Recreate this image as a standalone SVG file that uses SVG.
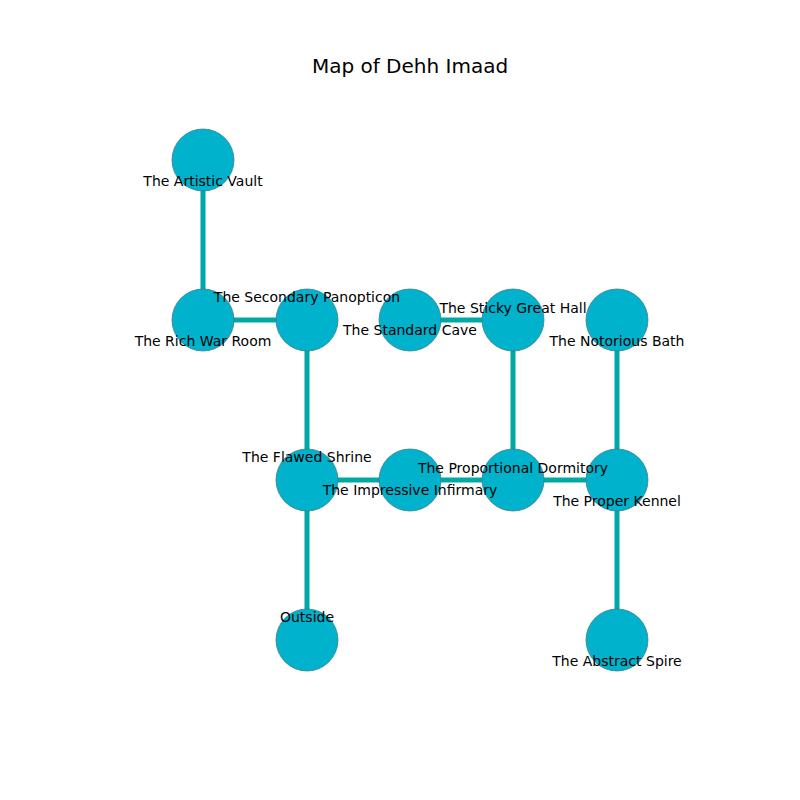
<svg xmlns="http://www.w3.org/2000/svg" width="800" height="800" viewBox="0 0 800 800">
<style>
.e{stroke:#00a8a8;stroke-width:5;fill:none}
.n{fill:#00b2cc;stroke:#3f7f8a;stroke-width:0.8}
text{font-family:"DejaVu Sans",sans-serif;font-size:14px;fill:#000;text-anchor:middle}
.t{font-size:20px}
</style>
<rect width="800" height="800" fill="#fff"/>
<text class="t" x="410" y="73">Map of Dehh Imaad</text>
<g id="connectors">
<line class="e" x1="203" y1="160" x2="203" y2="320"/>
<line class="e" x1="203" y1="320" x2="307" y2="320"/>
<line class="e" x1="307" y1="320" x2="307" y2="480"/>
<line class="e" x1="410" y1="320" x2="513" y2="320"/>
<line class="e" x1="513" y1="320" x2="513" y2="480"/>
<line class="e" x1="617" y1="320" x2="617" y2="480"/>
<line class="e" x1="307" y1="480" x2="410" y2="480"/>
<line class="e" x1="410" y1="480" x2="513" y2="480"/>
<line class="e" x1="513" y1="480" x2="617" y2="480"/>
<line class="e" x1="307" y1="480" x2="307" y2="640"/>
<line class="e" x1="617" y1="480" x2="617" y2="640"/>
</g>
<g id="n1"><circle class="n" cx="203" cy="160" r="31"/></g>
<g id="n2"><circle class="n" cx="203" cy="320" r="31"/></g>
<g id="n3"><circle class="n" cx="307" cy="320" r="31"/></g>
<g id="n4"><circle class="n" cx="410" cy="320" r="31"/></g>
<g id="n5"><circle class="n" cx="513" cy="320" r="31"/></g>
<g id="n6"><circle class="n" cx="617" cy="320" r="31"/></g>
<g id="n7"><circle class="n" cx="307" cy="480" r="31"/></g>
<g id="n8"><circle class="n" cx="410" cy="480" r="31"/></g>
<g id="n9"><circle class="n" cx="513" cy="480" r="31"/></g>
<g id="n10"><circle class="n" cx="617" cy="480" r="31"/></g>
<g id="n11"><circle class="n" cx="307" cy="640" r="31"/></g>
<g id="n12"><circle class="n" cx="617" cy="640" r="31"/></g>
<g id="labels">
<text x="203" y="186">The Artistic Vault</text>
<text x="203" y="346">The Rich War Room</text>
<text x="307" y="302">The Secondary Panopticon</text>
<text x="410" y="335">The Standard Cave</text>
<text x="513" y="313">The Sticky Great Hall</text>
<text x="617" y="346">The Notorious Bath</text>
<text x="307" y="462">The Flawed Shrine</text>
<text x="410" y="495">The Impressive Infirmary</text>
<text x="513" y="473">The Proportional Dormitory</text>
<text x="617" y="506">The Proper Kennel</text>
<text x="307" y="622">Outside</text>
<text x="617" y="666">The Abstract Spire</text>
</g>
</svg>
